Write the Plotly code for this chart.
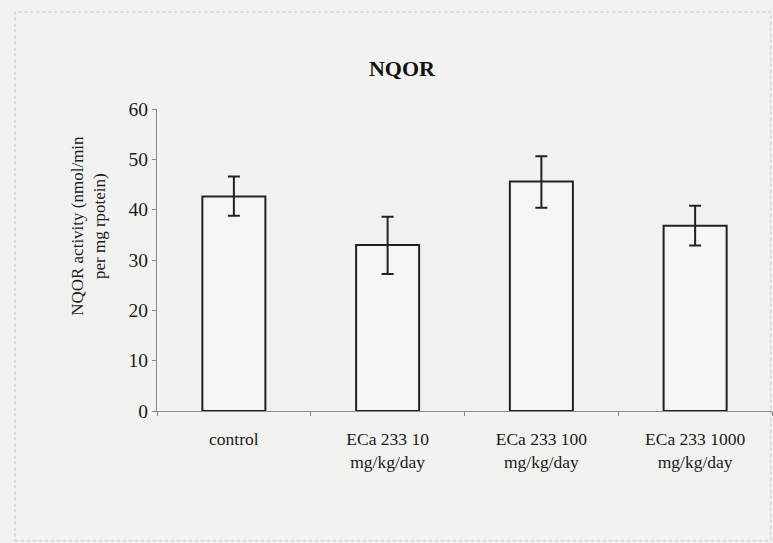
import plotly.graph_objects as go

categories = ["control", "ECa 233 10<br>mg/kg/day", "ECa 233 100<br>mg/kg/day", "ECa 233 1000<br>mg/kg/day"]
means = [42.6, 33.0, 45.6, 36.8]
err_plus = [4.0, 5.6, 5.0, 4.0]
err_minus = [3.8, 5.8, 5.2, 3.9]
y_ticks = [0, 10, 20, 30, 40, 50, 60]
title_text = "NQOR"
y_title = "NQOR activity (nmol/min<br>per mg rpotein)"

BG = "#f2f2f0"
FONT = "Liberation Serif, Times New Roman, serif"

fig = go.Figure()
fig.add_trace(go.Bar(
    x=categories,
    y=means,
    marker=dict(color="#f6f6f4", line=dict(color="#222222", width=2)),
    error_y=dict(type="data", symmetric=False, array=err_plus, arrayminus=err_minus,
                 color="#222222", thickness=2, width=6),
    width=0.41,
))

fig.update_layout(
    width=773, height=543,
    margin=dict(l=157, r=1, t=109, b=132, autoexpand=False),
    paper_bgcolor=BG, plot_bgcolor=BG,
    font=dict(family=FONT, color="#1a1a1a"),
    showlegend=False,
    title=dict(text="<b>" + title_text + "</b>", x=0.52, xanchor="center",
               y=1 - 68 / 543, yanchor="middle", yref="container",
               font=dict(size=22, family=FONT, color="#111111")),
    xaxis=dict(
        showline=True, linecolor="#8a8a8a", linewidth=1,
        ticks="outside", tickson="boundaries", ticklen=4, tickcolor="#8a8a8a",
        tickfont=dict(size=17.5, family=FONT, color="#1a1a1a"),
        ticklabelstandoff=12,
        showgrid=False, zeroline=False,
    ),
    yaxis=dict(
        range=[0, 60], tickvals=y_ticks,
        showline=True, linecolor="#8a8a8a", linewidth=1,
        ticks="outside", ticklen=4, tickcolor="#8a8a8a",
        tickfont=dict(size=19.5, family=FONT, color="#1a1a1a"),
        showgrid=False, zeroline=False,
    ),
)

fig.add_annotation(text=y_title, textangle=-90, xref="paper", yref="paper",
                   x=-0.1106, y=0.613, xanchor="center", yanchor="middle",
                   showarrow=False, font=dict(size=17, family=FONT, color="#1a1a1a"))

fig.add_shape(type="rect", xref="paper", yref="paper",
              x0=-0.231, x1=0.998, y0=-0.43, y1=1.321,
              line=dict(color="#c0c0c0", width=1, dash="dot"), layer="below")

fig.write_html("out.html", config={"displayModeBar": False},
               post_script="document.body.style.margin='0';document.body.style.background='" + BG + "';")
